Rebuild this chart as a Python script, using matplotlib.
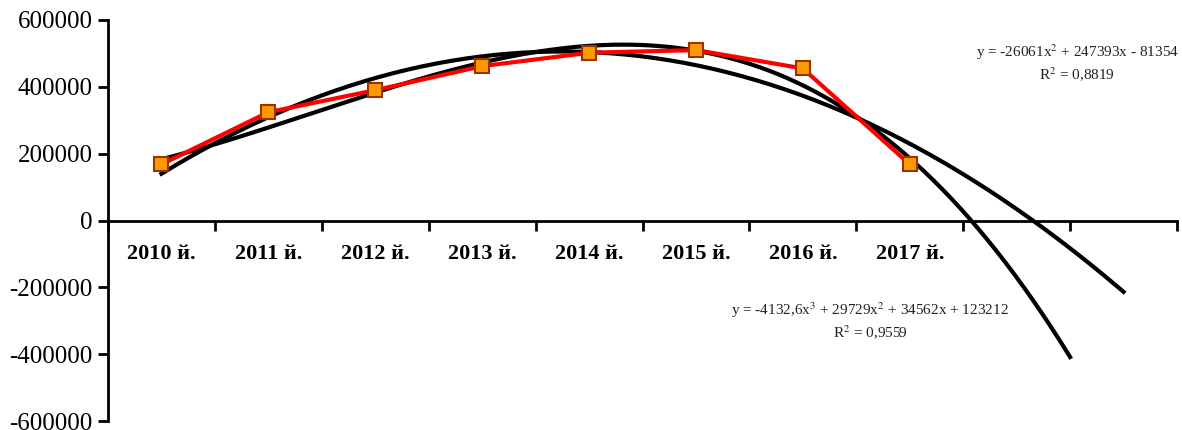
# Chart: values by year with polynomial trendlines (order 2 and 3)

import numpy as np
import matplotlib.pyplot as plt

# data
years = ['2010 й.', '2011 й.', '2012 й.', '2013 й.', '2014 й.', '2015 й.', '2016 й.', '2017 й.', '', '']
values = [168000, 324000, 390000, 462000, 502000, 510000, 455000, 168000]

# trendline coefficients as printed on the chart (highest power first)
quad_coef = [-26061, 247393, -81354]
cubic_coef = [-4132.6, 29729, 34562, 123212]
quad_label = 'y = -26061x$^2$ + 247393x - 81354\nR$^2$ = 0,8819'
cubic_label = 'y = -4132,6x$^3$ + 29729x$^2$ + 34562x + 123212\nR$^2$ = 0,9559'

plt.rcParams['font.family'] = ['Liberation Serif', 'DejaVu Serif']
plt.rcParams['mathtext.fontset'] = 'stix'

W, H = 1182, 430
fig = plt.figure(figsize=(W / 100, H / 100), dpi=100)
ax = fig.add_axes([108/W, 9/H, 1069/W, 401/H])

# trendlines: x is the period number 1..n, plotted at category index n-1
t_quad = np.linspace(1, 10, 200)
t_cub = np.linspace(1, 9.5, 200)
ax.plot(t_quad - 1, np.polyval(quad_coef, t_quad), color='black', lw=3, zorder=2)
ax.plot(t_cub - 1, np.polyval(cubic_coef, t_cub), color='black', lw=3, zorder=2)

# data series
x = np.arange(len(values))
ax.plot(x, values, color='#ff0000', lw=3, marker='s', markersize=10.5,
        markerfacecolor='#ff9900', markeredgecolor='#993300', markeredgewidth=1.5, zorder=3)

ax.set_xlim(-0.5, len(years) - 0.5)
ax.set_ylim(-600000, 600000)

ax.spines['top'].set_visible(False)
ax.spines['right'].set_visible(False)
ax.spines['bottom'].set_position(('data', 0))
ax.spines['left'].set_linewidth(2)
ax.spines['bottom'].set_linewidth(2)

ax.set_yticks(np.arange(-600000, 600001, 200000))
ax.set_yticklabels([str(v) for v in np.arange(-600000, 600001, 200000)])
ax.tick_params(axis='y', direction='out', length=7, width=2, labelsize=18, pad=4)

# category boundaries get tick marks, labels sit at the centers
ax.set_xticks(np.arange(-0.5, len(years), 1.0))
ax.set_xticklabels([])
ax.set_xticks(x.tolist() + [8, 9], minor=True)
ax.set_xticklabels(years, minor=True, fontweight='bold', fontsize=16)
ax.tick_params(axis='x', which='major', direction='out', length=7, width=2)
ax.tick_params(axis='x', which='minor', length=0, pad=17)

# equation labels placed in pixel coordinates (origin bottom-left)
ax.text(1179, H - 63, quad_label, transform=None, ha='right', va='center',
        multialignment='center', fontsize=11, linespacing=1.25, color='#222222')
ax.text(870, H - 321, cubic_label, transform=None, ha='center', va='center',
        multialignment='center', fontsize=11, linespacing=1.25, color='#222222')

plt.savefig('out.png', dpi=100)
